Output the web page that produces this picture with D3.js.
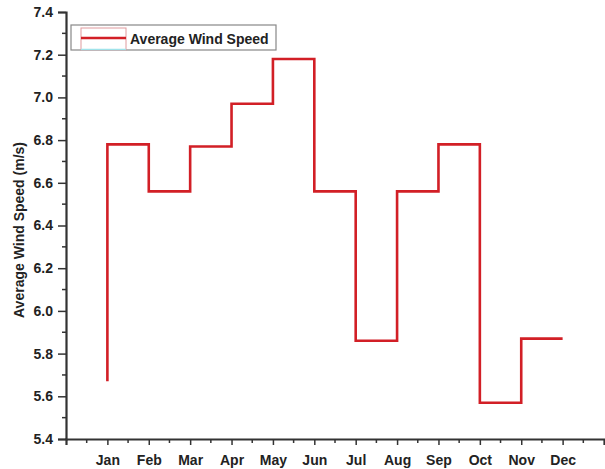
<!DOCTYPE html>
<html>
<head>
<meta charset="utf-8">
<script src="https://cdn.jsdelivr.net/npm/d3@7"></script>
<style>
  body { margin: 0; background: #fff; }
  text { font-family: Arial, "Liberation Sans", sans-serif; font-weight: bold; fill: #222; }
</style>
</head>
<body>
<div id="chart"></div>
<script>
const months = ["Jan", "Feb", "Mar", "Apr", "May", "Jun", "Jul", "Aug", "Sep", "Oct", "Nov", "Dec"]
const windSpeed = [5.67, 6.78, 6.56, 6.77, 6.97, 7.18, 6.56, 5.86, 6.56, 6.78, 5.57, 5.87]
const yTicks = [5.4, 5.6, 5.8, 6.0, 6.2, 6.4, 6.6, 6.8, 7.0, 7.2, 7.4]
const seriesName = "Average Wind Speed"

const W = 605, H = 469
const MARGIN = { LEFT: 66, RIGHT: 1, TOP: 12, BOTTOM: 30 }
const HEIGHT = H - MARGIN.TOP - MARGIN.BOTTOM

const svg = d3.select("#chart").append("svg")
  .attr("width", W).attr("height", H)

const x = d3.scaleLinear().domain([0, 13]).range([MARGIN.LEFT, W - MARGIN.RIGHT])
const y = d3.scaleLinear().domain([5.4, 7.4]).range([MARGIN.TOP + HEIGHT, MARGIN.TOP])

const axisColor = "#333"

// y axis: major ticks with labels, minor ticks in between
const yMinor = d3.range(5.5, 7.4, 0.2)
const yAxis = svg.append("g").attr("transform", `translate(${MARGIN.LEFT},0)`)
yAxis.call(d3.axisLeft(y).tickValues(yTicks).tickFormat(d3.format(".1f")).tickSize(8).tickPadding(5))
yAxis.selectAll(".minor").data(yMinor).join("line")
  .attr("class", "minor")
  .attr("x1", -4).attr("x2", 0)
  .attr("y1", d => y(d)).attr("y2", d => y(d))
  .attr("stroke", axisColor).attr("stroke-width", 1.5)

// x axis
const xAxis = svg.append("g").attr("transform", `translate(0,${MARGIN.TOP + HEIGHT})`)
xAxis.call(d3.axisBottom(x).tickValues(d3.range(1, 13)).tickFormat(i => months[i - 1]).tickSize(6).tickPadding(10))
xAxis.selectAll(".minor").data(d3.range(0.5, 13, 1)).join("line")
  .attr("class", "minor")
  .attr("x1", d => x(d)).attr("x2", d => x(d))
  .attr("y1", 0).attr("y2", 4)
  .attr("stroke", axisColor).attr("stroke-width", 1.5)

svg.selectAll(".domain").attr("stroke", axisColor).attr("stroke-width", 2.2)
svg.selectAll(".tick line").attr("stroke", axisColor).attr("stroke-width", 1.5)
svg.selectAll(".tick text").attr("font-size", 14).attr("fill", "#222")
  .style("font-family", "Arial, 'Liberation Sans', sans-serif").style("font-weight", "bold")

// step line
const line = d3.line()
  .x((d, i) => x(i + 1))
  .y(d => y(d))
  .curve(d3.curveStepBefore)

svg.append("path")
  .datum(windSpeed)
  .attr("d", line)
  .attr("fill", "none")
  .attr("stroke", "#d21f26")
  .attr("stroke-width", 2.6)

// y axis title
svg.append("text")
  .attr("transform", "translate(24,230) rotate(-90)")
  .attr("text-anchor", "middle")
  .attr("font-size", 14)
  .text("Average Wind Speed (m/s)")

// legend
const legend = svg.append("g").attr("transform", "translate(71,25)")
legend.append("rect")
  .attr("width", 205).attr("height", 25)
  .attr("fill", "#fff").attr("stroke", "#888").attr("stroke-width", 1.2)
legend.append("rect")
  .attr("x", 10).attr("y", 3).attr("width", 45).attr("height", 22)
  .attr("fill", "none").attr("stroke", "#e09a9d").attr("stroke-width", 1)
legend.append("line")
  .attr("x1", 10).attr("x2", 55).attr("y1", 24.5).attr("y2", 24.5)
  .attr("stroke", "#9fe3ea").attr("stroke-width", 1.5)
legend.append("line")
  .attr("x1", 10).attr("x2", 55).attr("y1", 13).attr("y2", 13)
  .attr("stroke", "#d21f26").attr("stroke-width", 2.6)
legend.append("text")
  .attr("x", 59).attr("y", 19)
  .attr("font-size", 14)
  .text(seriesName)
</script>
</body>
</html>
